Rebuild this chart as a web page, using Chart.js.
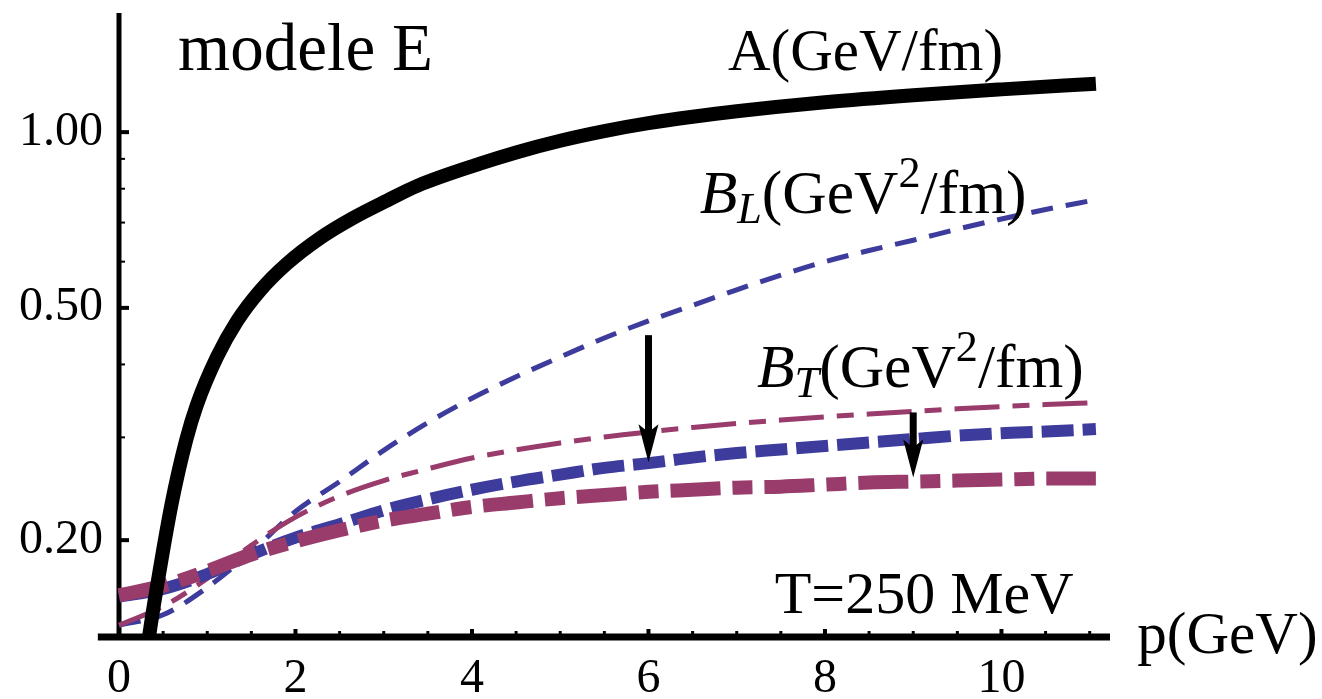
<!DOCTYPE html>
<html lang="fr">
<head>
<meta charset="UTF-8">
<title>modele E</title>
<script src="https://cdn.jsdelivr.net/npm/chart.js"></script>
<style>
  html, body { margin: 0; padding: 0; background: #fff; }
  #wrap { width: 1322px; height: 699px; position: relative; }
</style>
</head>
<body>
<div id="wrap"><canvas id="chart"></canvas></div>
<script>
// values, p in GeV
var pA = [0.30, 0.34, 0.44, 0.60, 0.76, 0.88, 1.11, 1.34, 1.60, 1.90, 2.28, 2.65, 3.04, 3.38, 4.09, 4.5, 5, 5.5, 6, 6.5, 7, 8, 9, 10, 11.07]
var A  = [0.122, 0.1365, 0.170, 0.2324, 0.2964, 0.3402, 0.4118, 0.4751, 0.5355, 0.5948, 0.6589, 0.7126, 0.764, 0.8091, 0.8831, 0.9232, 0.9667, 1.0041, 1.0359, 1.0624, 1.0859, 1.1253, 1.1568, 1.1838, 1.2106]

var p = [0, 0.5, 1, 1.5, 2, 2.5, 3, 3.5, 4, 4.5, 5, 5.5, 6, 6.5, 7, 7.5, 8, 8.5, 9, 9.5, 10, 10.5, 11.07]
var BL_thin  = [0.143, 0.149, 0.166, 0.191, 0.224, 0.252, 0.285, 0.318, 0.350, 0.381, 0.412, 0.444, 0.475, 0.505, 0.537, 0.569, 0.600, 0.627, 0.653, 0.682, 0.710, 0.737, 0.766]
var BT_thin  = [0.143, 0.154, 0.172, 0.196, 0.219, 0.238, 0.253, 0.265, 0.2765, 0.2855, 0.2935, 0.3005, 0.3065, 0.3120, 0.3168, 0.3212, 0.3252, 0.3290, 0.3325, 0.3357, 0.3387, 0.3414, 0.3440]
var BL_thick = [0.160, 0.165, 0.175, 0.189, 0.202, 0.213, 0.225, 0.235, 0.244, 0.252, 0.259, 0.266, 0.271, 0.277, 0.282, 0.286, 0.290, 0.294, 0.298, 0.302, 0.305, 0.307, 0.310]
var BT_thick = [0.161, 0.167, 0.177, 0.189, 0.199, 0.208, 0.216, 0.222, 0.228, 0.232, 0.236, 0.239, 0.242, 0.244, 0.246, 0.247, 0.249, 0.251, 0.252, 0.253, 0.254, 0.255, 0.255]

// arrows: thin curve -> thick curve
var arrowP    = [6, 9]
var arrowFrom = [0.449, 0.331]
var arrowTo   = [0.272, 0.256]

var xMajor = [0, 2, 4, 6, 8, 10]
var xMinor = [0.5, 1, 1.5, 2.5, 3, 3.5, 4.5, 5, 5.5, 6.5, 7, 7.5, 8.5, 9, 9.5, 10.5, 11]
var yMajor = [0.2, 0.5, 1.0]
var yMinor = [0.3, 0.4, 0.6, 0.7, 0.8, 0.9]

var blue = '#3d3b9c'
var pink = '#993c6c'
var serif = '"Liberation Serif", "Times New Roman", serif'

function pts(xs, ys) {
    return xs.map((v, i) => ({x: v, y: ys[i]}))
}

function line(data, color, width, dash, order) {
    return {
        data: data,
        borderColor: color,
        borderWidth: width,
        borderDash: dash,
        borderCapStyle: 'butt',
        pointRadius: 0,
        cubicInterpolationMode: 'monotone',
        fill: false,
        order: order,
        clip: {left: 12, top: 0, right: 12, bottom: 0}
    }
}

function richText(ctx, px, py, parts, size) {
    var cx = px
    parts.forEach(part => {
        var s = (part.sub || part.sup) ? size * 0.72 : size
        ctx.font = (part.it ? 'italic ' : '') + s + 'px ' + serif
        var dy = part.sub ? size * 0.17 : (part.sup ? -size * 0.42 : 0)
        ctx.fillText(part.t, cx, py + dy)
        cx += ctx.measureText(part.t).width
    })
}

var labels = [
    {x: 0.67, y: 1.277, size: 67, parts: [{t: 'modele E'}]},
    {x: 6.90, y: 1.277, size: 59, parts: [{t: 'A(GeV/fm)'}]},
    {x: 6.58, y: 0.727, size: 61.5, parts: [{t: 'B', it: true}, {t: 'L', it: true, sub: true}, {t: '(GeV'}, {t: '2', sup: true}, {t: '/fm)'}]},
    {x: 7.23, y: 0.366, size: 61.5, parts: [{t: 'B', it: true}, {t: 'T', it: true, sub: true}, {t: '(GeV'}, {t: '2', sup: true}, {t: '/fm)'}]},
    {x: 7.43, y: 0.150, size: 60, parts: [{t: 'T=250 MeV'}]},
    {x: 11.54, y: 0.128, size: 59, parts: [{t: 'p(GeV)'}]}
]

var decor = {
    id: 'decor',
    beforeDatasetsDraw(chart) {
        var ctx = chart.ctx
        var xs = chart.scales.x, ys = chart.scales.y
        var x0 = xs.getPixelForValue(0)
        var yb = ys.bottom
        ctx.save()
        ctx.strokeStyle = '#000'
        ctx.lineCap = 'butt'
        // axes
        ctx.lineWidth = 7
        ctx.beginPath()
        ctx.moveTo(xs.getPixelForValue(-0.24), yb)
        ctx.lineTo(xs.right, yb)
        ctx.stroke()
        ctx.lineWidth = 5
        ctx.beginPath()
        ctx.moveTo(x0, ys.top)
        ctx.lineTo(x0, yb + 3)
        ctx.stroke()
        // ticks, pointing inwards
        xMajor.concat(xMinor).forEach(v => {
            var major = xMajor.includes(v)
            var px = xs.getPixelForValue(v)
            ctx.lineWidth = major ? 4 : 3
            ctx.beginPath()
            ctx.moveTo(px, yb)
            ctx.lineTo(px, yb - (major ? 8 : 6))
            ctx.stroke()
        })
        yMajor.concat(yMinor).forEach(v => {
            var major = yMajor.includes(v)
            var py = ys.getPixelForValue(v)
            ctx.lineWidth = major ? 4 : 2
            ctx.beginPath()
            ctx.moveTo(x0, py)
            ctx.lineTo(x0 + (major ? 10 : 6), py)
            ctx.stroke()
        })
        ctx.restore()
    },
    afterDatasetsDraw(chart) {
        var ctx = chart.ctx
        var xs = chart.scales.x, ys = chart.scales.y
        ctx.save()
        ctx.fillStyle = '#000'
        ctx.strokeStyle = '#000'
        arrowP.forEach((v, i) => {
            var px = xs.getPixelForValue(v)
            var top = ys.getPixelForValue(arrowFrom[i])
            var tip = ys.getPixelForValue(arrowTo[i])
            ctx.lineWidth = 7
            ctx.beginPath()
            ctx.moveTo(px, top)
            ctx.lineTo(px, tip - 25)
            ctx.stroke()
            ctx.beginPath()
            ctx.moveTo(px, tip)
            ctx.lineTo(px - 10, tip - 38)
            ctx.lineTo(px, tip - 30)
            ctx.lineTo(px + 10, tip - 38)
            ctx.closePath()
            ctx.fill()
        })
        ctx.textBaseline = 'alphabetic'
        ctx.textAlign = 'left'
        labels.forEach(l => {
            richText(ctx, xs.getPixelForValue(l.x), ys.getPixelForValue(l.y), l.parts, l.size)
        })
        ctx.restore()
    }
}

var chart = new Chart(document.getElementById('chart'), {
    type: 'line',
    data: {
        datasets: [
            line(pts(pA, A), '#000', 14, [], 0),
            line(pts(p, BT_thick), pink, 14, [50, 12, 20, 12], 1),
            line(pts(p, BL_thick), blue, 12, [32, 9], 2),
            line(pts(p, BT_thin), pink, 5, [45, 13, 17, 13], 3),
            line(pts(p, BL_thin), blue, 5, [22, 13], 4)
        ]
    },
    options: {
        responsive: true,
        maintainAspectRatio: false,
        animation: false,
        layout: {padding: {top: 13, right: 212, left: 0, bottom: 0}},
        plugins: {legend: {display: false}, tooltip: {enabled: false}},
        scales: {
            x: {
                type: 'linear',
                min: 0,
                max: 11.23,
                grid: {display: false, drawTicks: false},
                border: {display: false},
                afterBuildTicks: s => { s.ticks = xMajor.map(v => ({value: v})) },
                afterFit: s => { s.height = 62; s.paddingLeft = 0; s.paddingRight = 0 },
                ticks: {
                    autoSkip: false,
                    maxRotation: 0,
                    padding: 14,
                    color: '#000',
                    font: {family: serif, size: 48},
                    callback: v => String(v)
                }
            },
            y: {
                type: 'logarithmic',
                min: 0.1365,
                max: 1.6,
                bounds: 'data',
                grid: {display: false, drawTicks: false},
                border: {display: false},
                afterBuildTicks: s => { s.ticks = yMajor.map(v => ({value: v})) },
                afterFit: s => { s.width = 119; s.paddingTop = 0; s.paddingBottom = 0 },
                ticks: {
                    autoSkip: false,
                    padding: 16,
                    color: '#000',
                    font: {family: serif, size: 48},
                    callback: v => Number(v).toFixed(2)
                }
            }
        }
    },
    plugins: [decor]
})
</script>
</body>
</html>
